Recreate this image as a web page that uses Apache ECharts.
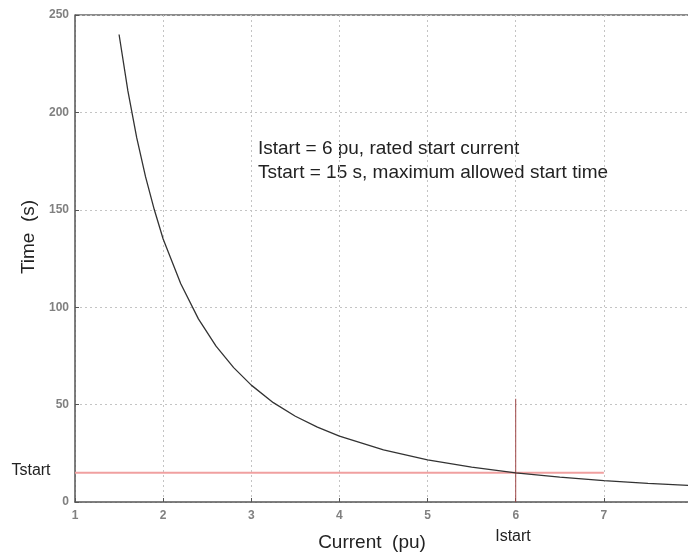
<!DOCTYPE html>
<html>
<head>
<meta charset="utf-8">
<script src="https://cdn.jsdelivr.net/npm/echarts@6/dist/echarts.min.js"></script>
<style>
  html, body { margin: 0; padding: 0; background: #fff; }
  #chart { width: 688px; height: 554px; }
</style>
</head>
<body>
<div id="chart"></div>
<script>
// current (pu) and start time (s)
const currentPu = [1.5, 1.6, 1.7, 1.8, 1.9, 2.0, 2.2, 2.4, 2.6, 2.8, 3.0, 3.25, 3.5, 3.75, 4.0, 4.5, 5.0, 5.5, 6.0, 6.5, 7.0, 7.5, 8.0]
const timeS = [240, 211, 187, 167, 150, 135, 112, 94, 80, 69, 60, 51, 44, 38.4, 33.8, 26.7, 21.6, 17.9, 15, 12.8, 11, 9.6, 8.4]

// Tstart line and Istart marker
const tstartX = [1, 7]
const tstartY = [15, 15]
const istartX = [6, 6]
const istartY = [0, 53]

const xTicks = [1, 2, 3, 4, 5, 6, 7, 8]
const yTicks = [0, 50, 100, 150, 200, 250]

const noteLines = [
  'Istart = 6 pu, rated start current',
  'Tstart = 15 s, maximum allowed start time'
]

const chart = echarts.init(document.getElementById('chart'))

const font = '"Liberation Sans", Arial, sans-serif'

const tickLabel = {
  color: '#808080',
  fontSize: 12,
  fontFamily: 'Liberation Sans',
  fontWeight: 'bold'
}

const option = {
  animation: false,
  grid: { left: 75, top: 15, width: 617, height: 487, outerBoundsMode: 'none' },
  xAxis: {
    type: 'value',
    min: xTicks[0],
    max: xTicks[xTicks.length - 1],
    interval: 1,
    axisLine: { show: true, lineStyle: { color: '#555', width: 1.5 } },
    axisTick: { show: true, inside: true, length: 4, lineStyle: { color: '#555' } },
    axisLabel: Object.assign({ margin: 8 }, tickLabel),
    splitLine: { show: true, lineStyle: { color: '#c4c4c4', type: [2, 3], width: 1 } }
  },
  yAxis: {
    type: 'value',
    min: yTicks[0],
    max: yTicks[yTicks.length - 1],
    interval: 50,
    axisLine: { show: true, lineStyle: { color: '#555', width: 1.5 } },
    axisTick: { show: true, inside: true, length: 4, lineStyle: { color: '#555' } },
    axisLabel: Object.assign({ margin: 6 }, tickLabel),
    splitLine: { show: true, lineStyle: { color: '#c4c4c4', type: [2, 3], width: 1 } }
  },
  graphic: [
    {
      type: 'line',
      shape: { x1: 75, y1: 15, x2: 688, y2: 15 },
      style: { stroke: '#666', lineWidth: 1.5 }
    },
    {
      type: 'text',
      x: 258,
      y: 137,
      style: {
        text: noteLines.join('\n'),
        font: '19px ' + font,
        fill: '#222',
        lineHeight: 24
      }
    },
    {
      type: 'text',
      x: 29,
      y: 237,
      rotation: Math.PI / 2,
      style: {
        text: 'Time  (s)',
        font: '19px ' + font,
        fill: '#222',
        align: 'center',
        verticalAlign: 'middle'
      }
    },
    {
      type: 'text',
      x: 372,
      y: 543,
      style: {
        text: 'Current  (pu)',
        font: '19px ' + font,
        fill: '#222',
        align: 'center',
        verticalAlign: 'middle'
      }
    },
    {
      type: 'text',
      x: 31,
      y: 471,
      style: {
        text: 'Tstart',
        font: '16px ' + font,
        fill: '#222',
        align: 'center',
        verticalAlign: 'middle'
      }
    },
    {
      type: 'text',
      x: 513,
      y: 537,
      style: {
        text: 'Istart',
        font: '16px ' + font,
        fill: '#222',
        align: 'center',
        verticalAlign: 'middle'
      }
    }
  ],
  series: [
    {
      type: 'line',
      data: tstartX.map((x, i) => [x, tstartY[i]]),
      showSymbol: false,
      lineStyle: { color: '#f0a0a0', width: 2 },
      z: 2
    },
    {
      type: 'line',
      data: istartX.map((x, i) => [x, istartY[i]]),
      showSymbol: false,
      lineStyle: { color: '#a04848', width: 1 },
      z: 2
    },
    {
      type: 'line',
      data: currentPu.map((x, i) => [x, timeS[i]]),
      showSymbol: false,
      lineStyle: { color: '#333', width: 1.3 },
      z: 3
    }
  ]
}

chart.setOption(option)
</script>
</body>
</html>
